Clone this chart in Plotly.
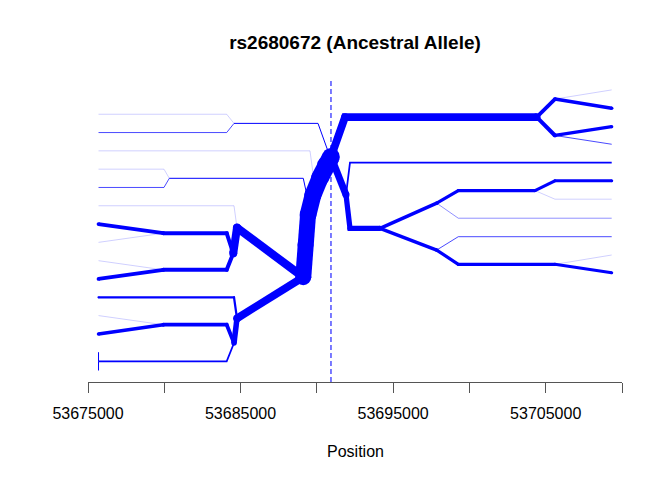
import plotly.graph_objects as go

# ---------------- data ----------------
title_text = "rs2680672 (Ancestral Allele)"
x_title = "Position"
focal_position = 53690925
tick_values = [53675000, 53680000, 53685000, 53690000, 53695000, 53700000, 53705000, 53710000]
tick_labels = ["53675000", "", "53685000", "", "53695000", "", "53705000", ""]

# left side of the bifurcation diagram (paths from leaves towards the focal marker)
left_x = [
    [53675690, 53684090, 53684570],
    [53675690, 53684090, 53684570],
    [53684570, 53690075, 53690795],
    [53675690, 53689550, 53689880],
    [53675690, 53679980, 53680330],
    [53675690, 53679980, 53680330],
    [53680330, 53689110, 53689515],
    [53675690, 53684570, 53684765],
    [53675690, 53679935],
    [53675690, 53679935],
    [53679935, 53684090, 53684520],
    [53675690, 53679935],
    [53675690, 53679935],
    [53679935, 53684090, 53684520],
    [53684520, 53684765],
    [53684765, 53689110],
    [53675690, 53684570, 53684765],
    [53675690, 53679935],
    [53675690, 53679935],
    [53679935, 53684090, 53684570],
    [53675690, 53675690],
    [53675690, 53675690],
    [53675690, 53684090, 53684570],
    [53684570, 53684765],
    [53684765, 53689110],
    [53689110, 53689255, 53689420],
    [53689420, 53689745],
    [53689745, 53690205],
    [53690205, 53690600, 53690925],
]
left_y = [
    [14, 14, 13.5],
    [13, 13, 13.5],
    [13.5, 13.5, 11.83],
    [12, 12, 9.97],
    [11, 11, 10.5],
    [10, 10, 10.5],
    [10.5, 10.5, 8.93],
    [9, 9, 7.8],
    [8, 7.5],
    [7, 7.5],
    [7.5, 7.5, 6.4],
    [6, 5.5],
    [5, 5.5],
    [5.5, 5.5, 6.4],
    [6.4, 7.8],
    [7.8, 5.1],
    [4, 4, 2.85],
    [3, 2.5],
    [2, 2.5],
    [2.5, 2.5, 1.5],
    [1, 0.5],
    [0, 0.5],
    [0.5, 0.5, 1.5],
    [1.5, 2.85],
    [2.85, 5.1],
    [5.1, 6.86, 8.5],
    [8.5, 9.59],
    [9.59, 10.52],
    [10.52, 11.23, 11.67],
]
left_n = [1, 3, 4, 1, 1, 3, 4, 1, 15, 1, 16, 1, 15, 16, 32, 33, 9, 1, 14, 15, 4, 4, 7, 22, 31, 64, 67, 68, 71]

# right side of the bifurcation diagram
right_x = [
    [53690925, 53691845, 53704410],
    [53704410, 53705605],
    [53705605, 53709325],
    [53705605, 53709325],
    [53704410, 53705605],
    [53705605, 53709325],
    [53705605, 53709325],
    [53690925, 53691910],
    [53691910, 53692170, 53709325],
    [53691910, 53692170, 53694140],
    [53694140, 53697855],
    [53697855, 53699270, 53704295],
    [53704295, 53705605, 53709325],
    [53704295, 53705605, 53709325],
    [53697855, 53699270, 53709325],
    [53694140, 53697855],
    [53697855, 53699270, 53705605],
    [53705605, 53709325],
    [53705605, 53709325],
    [53697855, 53699270, 53709325],
]
right_y = [
    [11.67, 13.84, 13.84],
    [13.84, 14.83],
    [14.83, 15.33],
    [14.83, 14.33],
    [13.84, 12.84],
    [12.84, 13.32],
    [12.84, 12.36],
    [11.67, 9.6],
    [9.6, 11.36, 11.36],
    [9.6, 7.77, 7.77],
    [7.77, 9.14],
    [9.14, 9.83, 9.83],
    [9.83, 10.36, 10.36],
    [9.83, 9.36, 9.36],
    [9.14, 8.32, 8.32],
    [7.77, 6.58],
    [6.58, 5.8, 5.8],
    [5.8, 5.34],
    [5.8, 6.31],
    [6.58, 7.31, 7.31],
]
right_n = [31, 15, 1, 14, 16, 13, 3, 28, 7, 21, 14, 13, 12, 1, 2, 14, 13, 12, 1, 3]

# ---------------- figure ----------------
WIDTH_PER_HAP = 0.25

paths = list(zip(left_x, left_y, left_n)) + list(zip(right_x, right_y, right_n))
paths.sort(key=lambda p: p[2])

fig = go.Figure()

fig.add_shape(type="line", xref="x", yref="paper", x0=focal_position, x1=focal_position,
              y0=0, y1=1, layer="below",
              line=dict(color="#5a5aff", width=1.6, dash="5px,3px"))

for xs, ys, n in paths:
    w = n * WIDTH_PER_HAP
    if w < 1:
        color = "rgba(0,0,255,%.3f)" % (w ** 1.2)
        lw = 1
    else:
        color = "rgb(0,0,255)"
        lw = w
    mode = "lines+markers" if lw >= 2 else "lines"
    fig.add_trace(go.Scatter(
        x=xs, y=ys, mode=mode,
        line=dict(color=color, width=lw),
        marker=dict(size=lw, color=color, line=dict(width=0)),
        hoverinfo="skip", showlegend=False,
    ))

# the page body has an 8px margin, so the figure is 8px smaller and shifted
fig.update_layout(
    width=664, height=472,
    margin=dict(l=80, r=50, t=70, b=98),
    paper_bgcolor="white", plot_bgcolor="white",
    font=dict(family="Liberation Sans, Arial, sans-serif", size=16, color="black"),
    title=dict(text="<b>" + title_text + "</b>", x=0.5, xref="paper", xanchor="center",
               y=1 - 34 / 472, yref="container", yanchor="middle",
               font=dict(size=19, color="black")),
    xaxis=dict(range=[53675000, 53710000], tickvals=tick_values, ticktext=tick_labels,
               showgrid=False, zeroline=False, showline=True, linecolor="#555555", linewidth=1,
               ticks="outside", ticklen=10, tickcolor="#555555", tickwidth=1,
               ticklabelstandoff=7,
               tickfont=dict(size=16, color="black")),
    yaxis=dict(range=[-0.628, 15.98], visible=False, showgrid=False, zeroline=False),
    annotations=[dict(text=x_title, xref="paper", yref="paper", x=0.5, y=-0.227,
                      xanchor="center", yanchor="middle", showarrow=False,
                      font=dict(size=16, color="black"))],
)

fig.write_html("out.html")
